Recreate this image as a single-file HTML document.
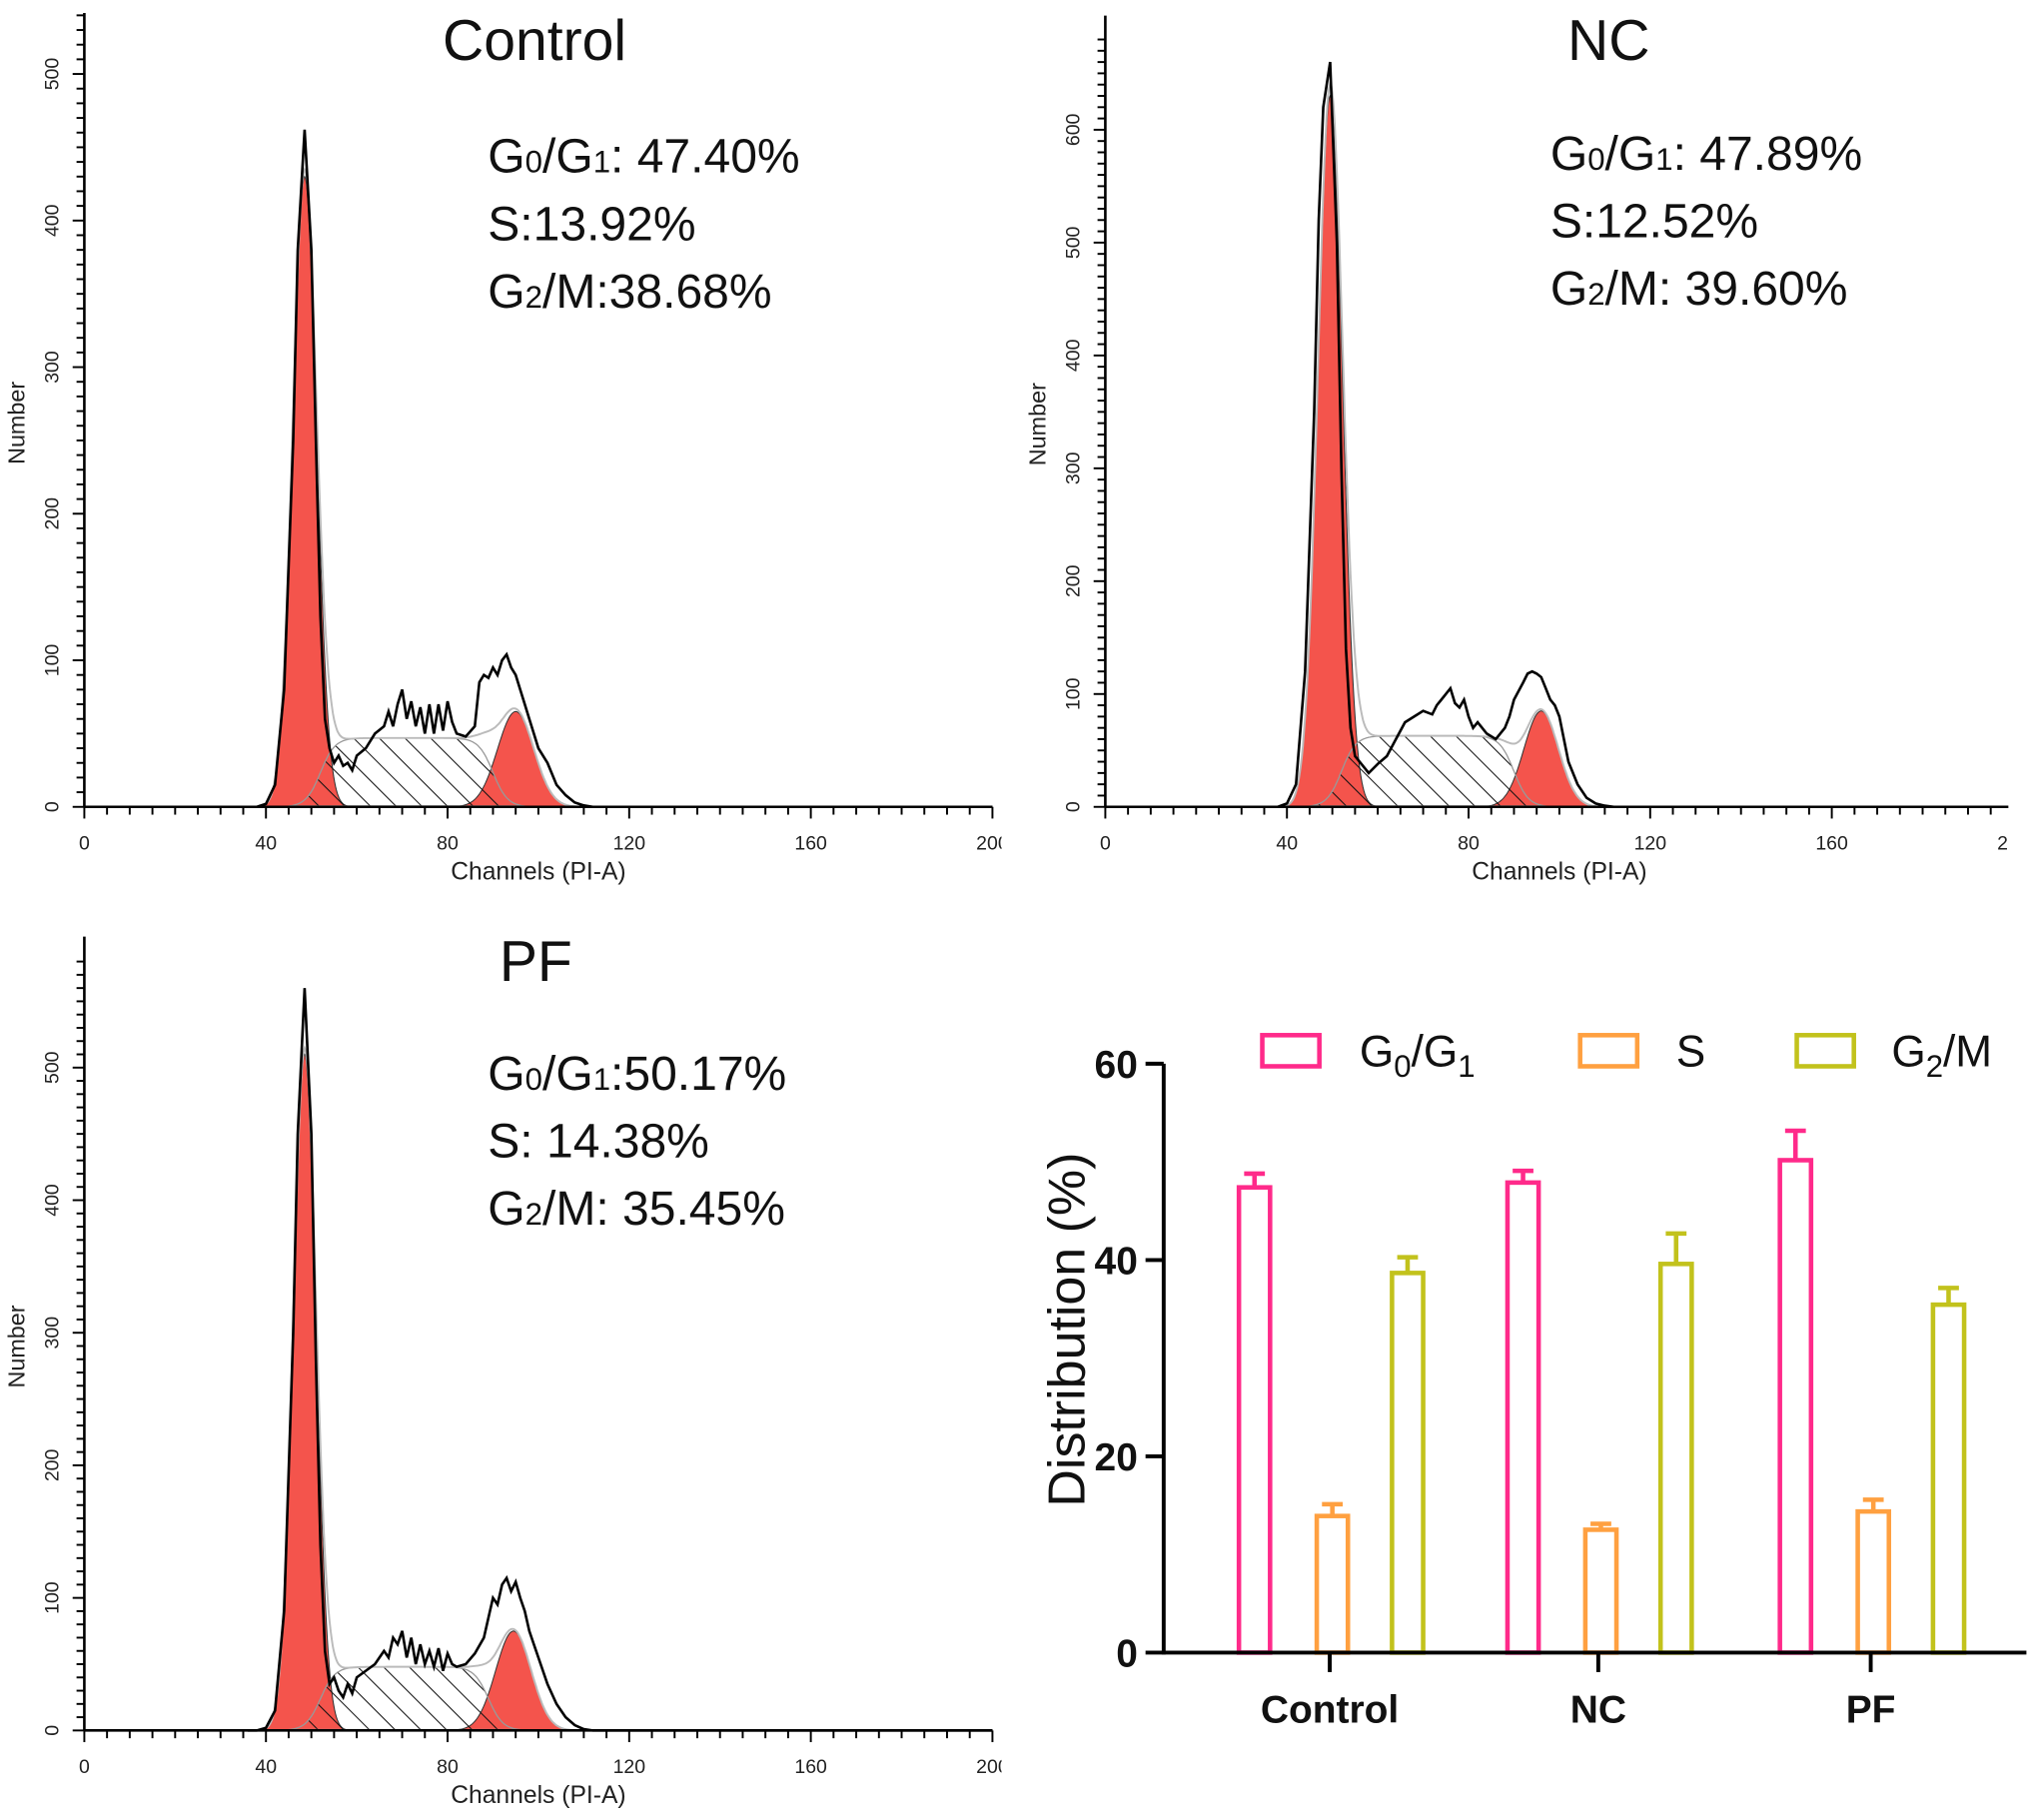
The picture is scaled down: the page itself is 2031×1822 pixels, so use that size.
<!DOCTYPE html>
<html><head><meta charset="utf-8"><style>
html,body{margin:0;padding:0;background:#fff;}
svg{display:block;font-family:"Liberation Sans",Arial,sans-serif;}
</style></head><body>
<svg id="fig" width="2031" height="1822" viewBox="0 0 1564 1403" xmlns="http://www.w3.org/2000/svg">
<defs>
<pattern id="hatch" patternUnits="userSpaceOnUse" width="14" height="14" patternTransform="rotate(-45)">
<line x1="0" y1="0" x2="0" y2="14" stroke="#111" stroke-width="1.6"/>
</pattern>
<clipPath id="clipL"><rect x="0" y="0" width="772" height="1403"/></clipPath>
<clipPath id="clipR"><rect x="780" y="0" width="768" height="1403"/></clipPath>
</defs>
</svg>
<script>
// ---------- Histogram data (channel, count) ----------
const controlChannels = [36,38,40,42,44,46,47,48.5,50,51,52,53,54,55,56,57,58,59,60,62,64,66,67,68,69,70,71,72,73,74,75,76,77,78,79,80,81,82,84,86,87,88,89,90,91,92,93,94,95,96,97,98,99,100,102,104,106,108,110,112,200];
const controlCounts   = [0,0,2,15,80,250,380,462,380,250,130,60,40,30,35,28,30,25,35,40,50,55,65,55,70,80,60,72,55,68,50,70,50,70,52,72,58,50,48,55,85,90,88,95,90,100,104,95,90,80,70,60,50,40,30,15,8,3,1,0,0];
const ncChannels = [36,38,40,42,44,46,47,48,49.5,51,52,53,54,55,56,57,58,60,62,64,66,68,70,72,73,74,75,76,77,78,79,80,81,82,84,86,88,89,90,92,93,94,95,96,97,98,99,100,101,102,104,106,108,110,112,200];
const ncCounts   = [0,0,3,20,120,350,520,620,660,500,300,140,70,45,40,35,30,38,45,60,75,80,85,82,90,95,100,105,92,88,95,80,70,75,65,60,70,80,95,110,118,120,118,115,105,95,90,80,60,40,20,8,3,1,0,0];
const pfChannels = [36,38,40,42,44,46,47,48.5,50,51,52,53,54,55,56,57,58,59,60,62,64,66,67,68,69,70,71,72,73,74,75,76,77,78,79,80,81,82,84,86,88,89,90,91,92,93,94,95,96,97,98,99,100,102,104,106,108,110,112,200];
const pfCounts   = [0,0,2,15,90,300,450,560,450,280,140,60,35,40,30,25,35,28,40,45,50,60,55,70,65,75,55,70,50,65,50,60,48,62,45,58,50,48,50,58,70,85,100,95,110,115,105,112,100,90,75,65,55,35,20,10,4,1,0,0];
// G1 / G2 fitted peaks: [mean, sd, height]; S: [start, end, height]
const controlG1 = [48.5, 2.6, 430]; const controlG2 = [95, 4.0, 65]; const controlS = [52, 90, 47];
const ncG1 = [49.5, 2.7, 630]; const ncG2 = [96, 3.8, 85]; const ncS = [52, 90, 63];
const pfG1 = [48.5, 2.5, 510]; const pfG2 = [94.5, 3.9, 75]; const pfS = [52, 89, 48];
const panelTitles = ["Control","NC","PF"];
const panelStats = [
  [["G","0","/G","1",": 47.40%"],["S:13.92%"],["G","2","/M:38.68%"]],
  [["G","0","/G","1",": 47.89%"],["S:12.52%"],["G","2","/M: 39.60%"]],
  [["G","0","/G","1",":50.17%"],["S: 14.38%"],["G","2","/M: 35.45%"]]
];
const xTickLabels = [0,40,80,120,160,200];

// ---------- Bar chart data ----------
const barCategories = ["Control","NC","PF"];
const seriesNames = ["G0/G1","S","G2/M"];
const g1Values = [47.40, 47.89, 50.17];
const sValues = [13.92, 12.52, 14.38];
const g2Values = [38.68, 39.60, 35.45];
const g1Err = [1.4, 1.2, 3.0];
const sErr = [1.2, 0.6, 1.2];
const g2Err = [1.6, 3.1, 1.7];
const barTicks = [0,20,40,60];

const NS = "http://www.w3.org/2000/svg";
const svg = document.getElementById('fig');
function el(tag, attrs, parent, text){
  const e = document.createElementNS(NS, tag);
  for (const k in attrs) e.setAttribute(k, attrs[k]);
  if (text !== undefined) e.textContent = text;
  (parent||svg).appendChild(e);
  return e;
}
function gauss(x,p){return p[2]*Math.exp(-0.5*Math.pow((x-p[0])/p[1],2));}
function sig(t){return 1/(1+Math.exp(-t));}
function sComp(x,p){return p[2]*(sig((x-p[0])/1.6)-sig((x-p[1])/1.6));}

function drawPanel(idx, ox, oy, yPer100, yMaxTick, topY, chans, counts, G1, G2, S, titleX, titleY, statX, statY, clip){
  const g = el('g', {'clip-path':'url(#'+clip+')'});
  
  
  const xs = c => ox + c*3.5;
  const ys = v => oy - v*yPer100/100;
  [G1,G2].forEach((p,k)=>{
    let d = '';
    for (let c=p[0]-4*p[1]; c<=p[0]+4*p[1]; c+=0.2){ d += (d?'L':'M')+xs(c).toFixed(1)+','+ys(gauss(c,p)).toFixed(1); }
    d += 'Z';
    const e = el('path',{d:d,fill:'#f4544c',stroke:'#333','stroke-width':0.8},g);
    
    
  });
  let d='';
  for (let c=S[0]-7; c<=S[1]+7; c+=0.25){ d += (d?'L':'M')+xs(c).toFixed(1)+','+ys(sComp(c,S)).toFixed(1); }
  d+='Z';
  const sp = el('path',{d:d,fill:'url(#hatch)',stroke:'#999','stroke-width':1},g);
  
  
  d='';
  for (let c=38; c<=112; c+=0.25){ const v=gauss(c,G1)+gauss(c,G2)+sComp(c,S); d += (d?'L':'M')+xs(c).toFixed(1)+','+ys(v).toFixed(1); }
  el('path',{d:d,fill:'none',stroke:'#bbb','stroke-width':1.5},g);
  d='';
  chans.forEach((c,i)=>{ d += (i?'L':'M')+xs(c).toFixed(1)+','+ys(counts[i]).toFixed(1); });
  const hl = el('path',{d:d,fill:'none',stroke:'#000','stroke-width':2},g);
  
  
  const top = topY;
  el('line',{x1:ox,y1:top,x2:ox,y2:oy,stroke:'#000','stroke-width':2},g);
  el('line',{x1:ox,y1:oy,x2:xs(200),y2:oy,stroke:'#000','stroke-width':2},g);
  for (let c=0; c<=200; c+=5){
    const maj = c%40===0;
    el('line',{x1:xs(c),y1:oy,x2:xs(c),y2:oy+(maj?9:6),stroke:'#000','stroke-width':1.5},g);
  }
  xTickLabels.forEach(t=>{
    const e = el('text',{x:xs(t),y:oy+33,'font-size':15,'text-anchor':'middle',fill:'#222'},g,String(t));
    
    
  });
  for (let v=0; v<=yMaxTick+80; v+=10){
    if (ys(v) < top) break;
    const maj = v%100===0;
    el('line',{x1:ox,y1:ys(v),x2:ox-(maj?9:6),y2:ys(v),stroke:'#000','stroke-width':1.5},g);
  }
  for (let v=0; v<=yMaxTick; v+=100){
    const e = el('text',{x:0,y:0,'font-size':15,'text-anchor':'middle',fill:'#222',transform:'translate('+(ox-20)+','+ys(v)+') rotate(-90)'},g,String(v));
    
    
  }
  const yl = el('text',{'font-size':18,'text-anchor':'middle',fill:'#222',transform:'translate('+(ox-46)+','+((top+oy)/2+10)+') rotate(-90)'},g,'Number');
  
  
  const xl = el('text',{x:xs(100),y:oy+56,'font-size':19,'text-anchor':'middle',fill:'#222'},g,'Channels (PI-A)');
  
  
  const tt = el('text',{x:titleX,y:titleY,'font-size':44,'text-anchor':'middle',fill:'#111'},g,panelTitles[idx]);
  
  
  panelStats[idx].forEach((parts,li)=>{
    const t = el('text',{x:statX,y:statY+li*52,'font-size':37,fill:'#111'},g);
    
    
    if (parts.length===1){ t.textContent = parts[0]; return; }
    parts.forEach((p,pi)=>{
      const isSub = (parts.length===5 && (pi===1||pi===3)) || (parts.length===3 && pi===1);
      el('tspan', isSub?{'font-size':24}:{}, t, p);
    });
  });
}
drawPanel(0, 65, 622, 113, 500, 10, controlChannels, controlCounts, controlG1, controlG2, controlS, 412, 46, 376, 133, 'clipL');
drawPanel(1, 852, 622, 87, 600, 12, ncChannels, ncCounts, ncG1, ncG2, ncS, 1240, 46, 1195, 131, 'clipR');
drawPanel(2, 65, 1334, 102.2, 500, 722, pfChannels, pfCounts, pfG1, pfG2, pfS, 413, 756, 376, 840, 'clipL');

// ---------- Bar chart ----------
(function(){
  const g = el('g',{});
  
  
  const x0=897, y0=1274, yTop=820;
  const yS = v => y0 - v*(y0-yTop)/60;
  const catX = [1025,1232,1442];
  const offs = [-58,2,60];
  const colors = ['#ff2a8a','#ffa040','#c2c21c'];
  const vals = [g1Values,sValues,g2Values];
  const errs = [g1Err,sErr,g2Err];
  barCategories.forEach((cat,ci)=>{
    vals.forEach((arr,si)=>{
      const cx = catX[ci]+offs[si], w=24;
      const v=arr[ci], e=errs[si][ci];
      el('line',{x1:cx,y1:yS(v),x2:cx,y2:yS(v+e),stroke:colors[si],'stroke-width':3.5},g);
      el('line',{x1:cx-8,y1:yS(v+e),x2:cx+8,y2:yS(v+e),stroke:colors[si],'stroke-width':3.5},g);
      const r = el('rect',{x:cx-w/2,y:yS(v),width:w,height:y0-yS(v),fill:'#fff',stroke:colors[si],'stroke-width':3.5},g);
      
      
    });
    el('line',{x1:catX[ci],y1:y0,x2:catX[ci],y2:y0+15,stroke:'#000','stroke-width':3},g);
    const t = el('text',{x:catX[ci],y:1328,'font-size':30,'font-weight':'bold','text-anchor':'middle',fill:'#111'},g,cat);
    
    
  });
  el('line',{x1:x0,y1:yTop,x2:x0,y2:y0+1.5,stroke:'#000','stroke-width':3},g);
  el('line',{x1:x0,y1:y0,x2:1562,y2:y0,stroke:'#000','stroke-width':3},g);
  barTicks.forEach(t=>{
    el('line',{x1:x0-14,y1:yS(t),x2:x0,y2:yS(t),stroke:'#000','stroke-width':3},g);
    const e = el('text',{x:x0-20,y:yS(t)+11,'font-size':30,'font-weight':'bold','text-anchor':'end',fill:'#111'},g,String(t));
    
    
  });
  const yl = el('text',{'font-size':40,'text-anchor':'middle',fill:'#111',transform:'translate(836,1025) rotate(-90)'},g,'Distribution (%)');
  
  
  const legX=[973,1218,1385], legTX=[1048,1292,1458];
  const legParts=[["G","0","/G","1"],["S"],["G","2","/M"]];
  legX.forEach((lx,i)=>{
    const lg = el('g',{},g);
    
    
    el('rect',{x:lx,y:798,width:44,height:24,fill:'#fff',stroke:colors[i],'stroke-width':3.5},lg);
    const t = el('text',{x:legTX[i],y:822,'font-size':34,fill:'#111'},lg);
    legParts[i].forEach((p,pi)=>{
      if (pi%2===1) el('tspan',{'font-size':24,dy:8},t,p);
      else el('tspan',pi>0?{dy:-8}:{},t,p);
    });
  });
})();
</script>
</body></html>
